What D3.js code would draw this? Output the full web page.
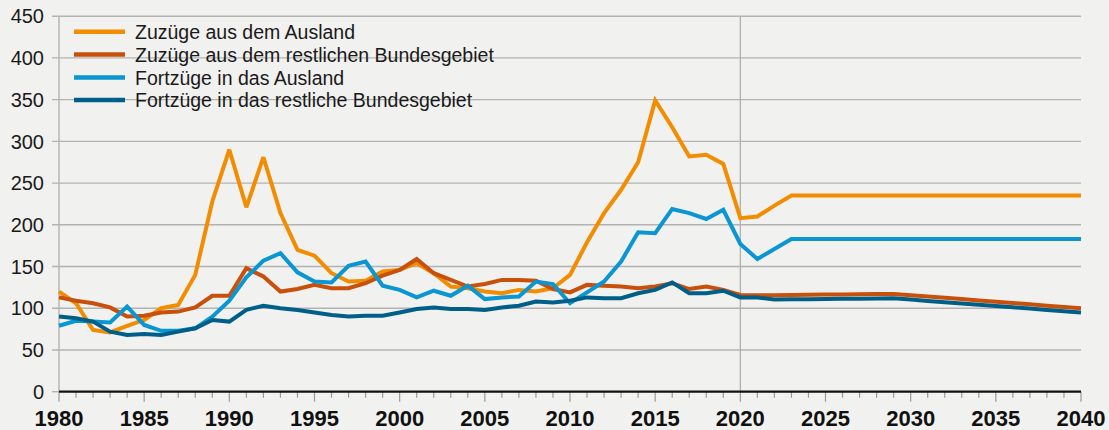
<!DOCTYPE html>
<html>
<head>
<meta charset="utf-8">
<script src="https://cdn.jsdelivr.net/npm/d3@7"></script>
<style>
  html, body { margin: 0; padding: 0; background: #f1f1ef; }
  svg { display: block; }
  text { font-family: "Liberation Sans", Arial, sans-serif; }
</style>
</head>
<body>
<svg id="chart" width="1109" height="430"></svg>
<script>
// ---- Data ----
const years = d3.range(1980, 2041);
const seriesNames = [
  "Zuzüge aus dem Ausland",
  "Zuzüge aus dem restlichen Bundesgebiet",
  "Fortzüge in das Ausland",
  "Fortzüge in das restliche Bundesgebiet"
];
const zuzuegeAusland = [
  120, 106, 74, 71, 79, 86, 100, 104, 140, 228,
  290, 221, 281, 214, 170, 163, 142, 132, 133, 144,
  146, 154, 142, 126, 124, 120, 118, 122, 120, 124,
  140, 179, 214, 242, 275, 349, 317, 282, 284, 273,
  208, 210, 223, 235, 235, 235, 235, 235, 235, 235,
  235, 235, 235, 235, 235, 235, 235, 235, 235, 235, 235
];
const zuzuegeBund = [
  113, 109, 106, 101, 90, 91, 95, 96, 101, 115,
  115, 148, 138, 120, 123, 128, 124, 124, 130, 139,
  146, 159, 142, 134, 126, 129, 134, 134, 133, 123,
  119, 128, 127, 126, 124, 126, 130, 123, 126, 122,
  116, 115.5, 115.7, 116, 116.2, 116.4, 116.6, 116.8, 117, 117.2,
  115.6, 114.1, 112.5, 111, 109.4, 107.8, 106.3, 104.7, 103.1, 101.6, 100
];
const fortzuegeAusland = [
  79, 85, 84, 83, 102, 80, 73, 73, 76, 90,
  109, 137, 157, 166, 143, 132, 131, 151, 156, 127,
  122, 113, 121, 115, 127, 111, 113, 114, 132, 129,
  106, 119, 132, 156, 191, 190, 219, 214, 207, 218,
  177, 159, 171, 183, 183, 183, 183, 183, 183, 183,
  183, 183, 183, 183, 183, 183, 183, 183, 183, 183, 183
];
const fortzuegeBund = [
  90, 88, 84, 72, 68, 69, 68, 72, 76, 86,
  84, 98, 103, 100, 98, 95, 92, 90, 91, 91,
  95, 99, 101, 99, 99, 98, 101, 103, 108, 107,
  109, 113, 112, 112, 118, 122, 131, 118, 118, 121,
  113, 113, 110.5, 110.7, 110.9, 111.1, 111.3, 111.5, 111.7, 111.9,
  110.4, 108.8, 107.3, 105.7, 104.2, 102.7, 101.1, 99.6, 98, 96.5, 95
];
const yTicks = [0, 50, 100, 150, 200, 250, 300, 350, 400, 450];
const xTickLabels = [1980, 1985, 1990, 1995, 2000, 2005, 2010, 2015, 2020, 2025, 2030, 2035, 2040];
const colors = ["#f28c00", "#c8500a", "#0996d2", "#005f88"];

// ---- Layout ----
const svg = d3.select("#chart");
const plotLeft = 59, plotRight = 1081, plotTop = 16.2, plotBottom = 391.7;

const x = d3.scaleLinear().domain([1980, 2040]).range([plotLeft, plotRight]);
const y = d3.scaleLinear().domain([0, 450]).range([plotBottom, plotTop]);

// Gridlines (extend left as ticks)
const grid = svg.append("g");
grid.selectAll("line").data(yTicks.filter(d => d > 0)).join("line")
  .attr("x1", 52).attr("x2", plotRight)
  .attr("y1", d => y(d)).attr("y2", d => y(d))
  .attr("stroke", "#b3b3b3").attr("stroke-width", 1.4);
grid.append("line")
  .attr("x1", 52).attr("x2", plotLeft)
  .attr("y1", y(0)).attr("y2", y(0))
  .attr("stroke", "#b3b3b3").attr("stroke-width", 1.4);

// Left axis line
svg.append("line")
  .attr("x1", plotLeft).attr("x2", plotLeft)
  .attr("y1", plotTop).attr("y2", plotBottom)
  .attr("stroke", "#b3b3b3").attr("stroke-width", 1.4);

// Vertical 2020 line
svg.append("line")
  .attr("x1", x(2020)).attr("x2", x(2020))
  .attr("y1", plotTop).attr("y2", plotBottom)
  .attr("stroke", "#b3b3b3").attr("stroke-width", 1.4);

// Y labels
svg.append("g").selectAll("text").data(yTicks).join("text")
  .attr("x", 44).attr("y", d => y(d))
  .attr("dy", "0.36em")
  .attr("text-anchor", "end")
  .attr("font-size", 20)
  .attr("fill", "#1a1a1a")
  .text(d => d);

// Lines
const lineGen = d3.line().x((d, i) => x(years[i])).y(d => y(d));
const allSeries = [zuzuegeAusland, zuzuegeBund, fortzuegeAusland, fortzuegeBund];
svg.append("g").selectAll("path").data(allSeries).join("path")
  .attr("d", d => lineGen(d))
  .attr("fill", "none")
  .attr("stroke", (d, i) => colors[i])
  .attr("stroke-width", 4)
  .attr("stroke-linejoin", "miter")
  .attr("stroke-miterlimit", 3);

// X axis
svg.append("g").selectAll("line").data(years).join("line")
  .attr("x1", d => x(d)).attr("x2", d => x(d))
  .attr("y1", plotBottom).attr("y2", d => d % 5 === 0 ? plotBottom + 10 : plotBottom + 6)
  .attr("stroke", "#9a9a9a").attr("stroke-width", 1.2);
svg.append("line")
  .attr("x1", plotLeft).attr("x2", plotRight)
  .attr("y1", plotBottom).attr("y2", plotBottom)
  .attr("stroke", "#111").attr("stroke-width", 2.2);
svg.append("g").selectAll("text").data(xTickLabels).join("text")
  .attr("x", d => x(d)).attr("y", 426)
  .attr("text-anchor", "middle")
  .attr("font-size", 22)
  .attr("font-weight", "bold")
  .attr("fill", "#111")
  .text(d => d);

// Legend
const legend = svg.append("g");
const legY = [31.7, 54.5, 77.5, 100];
seriesNames.forEach((name, i) => {
  legend.append("line")
    .attr("x1", 74).attr("x2", 125)
    .attr("y1", legY[i]).attr("y2", legY[i])
    .attr("stroke", colors[i]).attr("stroke-width", 4.5);
  legend.append("text")
    .attr("x", 135).attr("y", legY[i])
    .attr("dy", "0.36em")
    .attr("font-size", 19.5)
    .attr("fill", "#1a1a1a")
    .text(name);
});
</script>
</body>
</html>
